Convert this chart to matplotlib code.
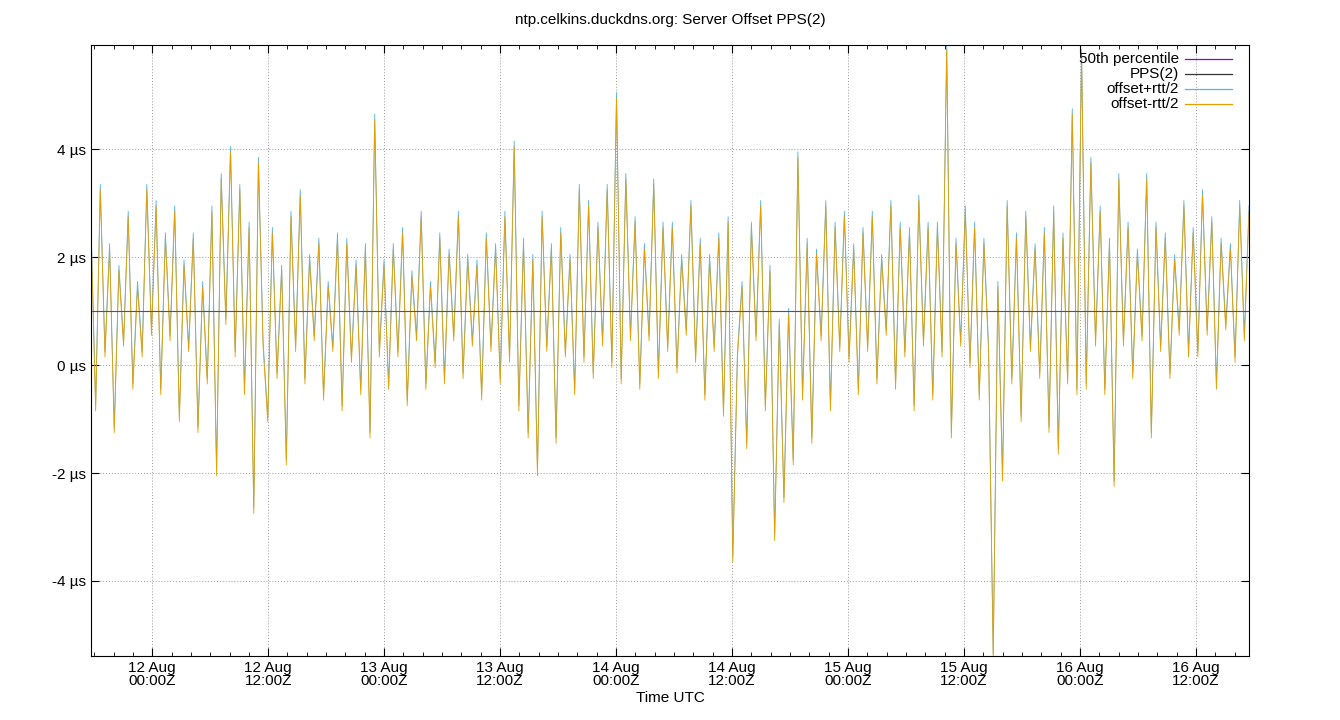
import numpy as np, matplotlib
matplotlib.use("Agg")
import matplotlib.pyplot as plt
import matplotlib.dates as mdates
from datetime import datetime

plt.rcParams['font.family'] = ['Liberation Sans', 'DejaVu Sans']
plt.rcParams['font.size'] = 10

offset_us = [2.6,-0.8,3.3,0.2,2.2,-1.2,1.8,0.4,2.8,-0.4,1.5,0.2,3.3,
 0.6,3.0,-0.5,2.4,0.5,2.9,-1.0,1.9,0.3,2.4,-1.2,1.5,-0.3,2.9,-2.0,3.5,0.8,4.0,0.2,3.3,-0.5,2.6,-2.7,3.8,0.4,
 -1.0,2.5,-0.2,1.8,-1.8,2.8,0.3,3.2,-0.3,2.0,0.5,2.3,-0.6,1.5,0.3,2.4,-0.8,2.3,0.1,1.9,-0.5,2.2,-1.3,4.6,0.2,
 1.9,-0.4,2.2,0.2,2.5,-0.7,1.7,0.5,2.8,-0.4,1.5,0.0,2.4,-0.3,2.1,0.5,2.8,-0.2,2.0,0.4,1.9,-0.6,2.4,0.3,2.2,
 -0.3,2.8,0.1,4.1,-0.8,2.3,-1.3,2.0,-2.0,2.8,0.3,2.2,-1.4,2.5,0.2,2.0,-0.5,3.3,0.1,3.0,-0.2,2.6,0.4,3.3,0.0,
 5.0,-0.3,3.5,0.5,2.7,-0.4,2.2,0.5,3.4,-0.2,2.6,0.3,2.6,-0.1,2.0,0.6,3.0,0.1,2.3,-0.6,2.0,0.3,2.4,-0.9,2.7,
 -3.6,0.2,1.5,-1.5,2.6,0.5,3.0,-0.8,1.8,-3.2,0.8,-2.5,1.0,-1.8,3.9,-0.6,2.3,-1.4,2.1,0.5,3.0,-0.8,2.6,0.3,2.8,
 0.1,2.2,-0.5,2.5,0.3,2.8,-0.3,2.0,0.6,3.0,-0.4,2.6,0.2,2.5,-0.8,3.1,0.4,2.6,-0.6,2.6,0.2,5.9,-1.3,2.3,0.4,
 2.9,0.0,2.6,-0.6,2.3,0.3,-5.4,1.5,-2.1,3.0,-0.3,2.4,-1.0,2.8,0.3,2.2,-0.2,2.5,-1.2,2.9,-1.6,2.4,-0.3,4.7,-0.5,
 5.8,-0.4,3.8,0.4,2.9,-0.5,2.3,-2.2,3.5,0.4,2.6,-0.2,2.1,0.5,3.5,-1.3,2.6,0.3,2.4,-0.2,2.0,0.6,3.0,0.2,2.5,
 0.2,3.2,0.6,2.7,-0.4,2.3,0.7,2.2,0.1,3.0,0.5,2.9]
rtt_half_us = 0.05
median_us = 1.0
t_start = datetime(2025,8,11,17,40)
t_end = datetime(2025,8,16,17,30)
xticks = [datetime(2025,8,d,h) for d in range(12,17) for h in (0,12)]

s = mdates.date2num(t_start); e = mdates.date2num(t_end)
t = np.linspace(s, e, len(offset_us))
v = np.array(offset_us)

fig = plt.figure(figsize=(13.4,7.2), dpi=100)
ax = fig.add_axes([91/1340, 1-656/720, (1249-91)/1340, (656-45)/720])
ax.plot(t, v + rtt_half_us, color='#56b4e9', lw=0.6)
ax.plot(t, v - rtt_half_us, color='#e69f00', lw=0.6)
ax.axhline(median_us, color='#555555', lw=0.8)
ax.set_xlim(s, e); ax.set_ylim(-5.39, 5.93)
ax.set_yticks([-4,-2,0,2,4]); ax.set_yticklabels([f"{y} µs" for y in [-4,-2,0,2,4]], fontsize=11)
ax.set_xticks(mdates.date2num(xticks))
ax.set_xticklabels([d.strftime("%d %b\n%H:%MZ") for d in xticks], fontsize=11, linespacing=0.95)
ax.xaxis.set_minor_locator(mdates.HourLocator(byhour=range(0,24,2)))
ax.tick_params(direction='in', which='both', top=True, right=True)
ax.tick_params(which='minor', length=3); ax.tick_params(which='major', length=6)
ax.grid(True, color='#999999', ls=(0,(1,2)), lw=0.7)
ax.set_xlabel("Time UTC", fontsize=11, labelpad=2)
fig.text(0.5, 1-20/720, "ntp.celkins.duckdns.org: Server Offset PPS(2)", ha='center', va='center', fontsize=11)
for i,(lab,c) in enumerate([("50th percentile",'#9400d3'),("PPS(2)",'#333333'),("offset+rtt/2",'#56b4e9'),("offset-rtt/2",'#e69f00')]):
    y = 1 - (14 + 15*i)/611
    ax.text(1088/1158, y, lab, transform=ax.transAxes, ha='right', va='center', fontsize=11)
    ax.plot([1094/1158, 1141/1158], [y, y], transform=ax.transAxes, color=c, lw=0.9)
fig.savefig("out.png")
